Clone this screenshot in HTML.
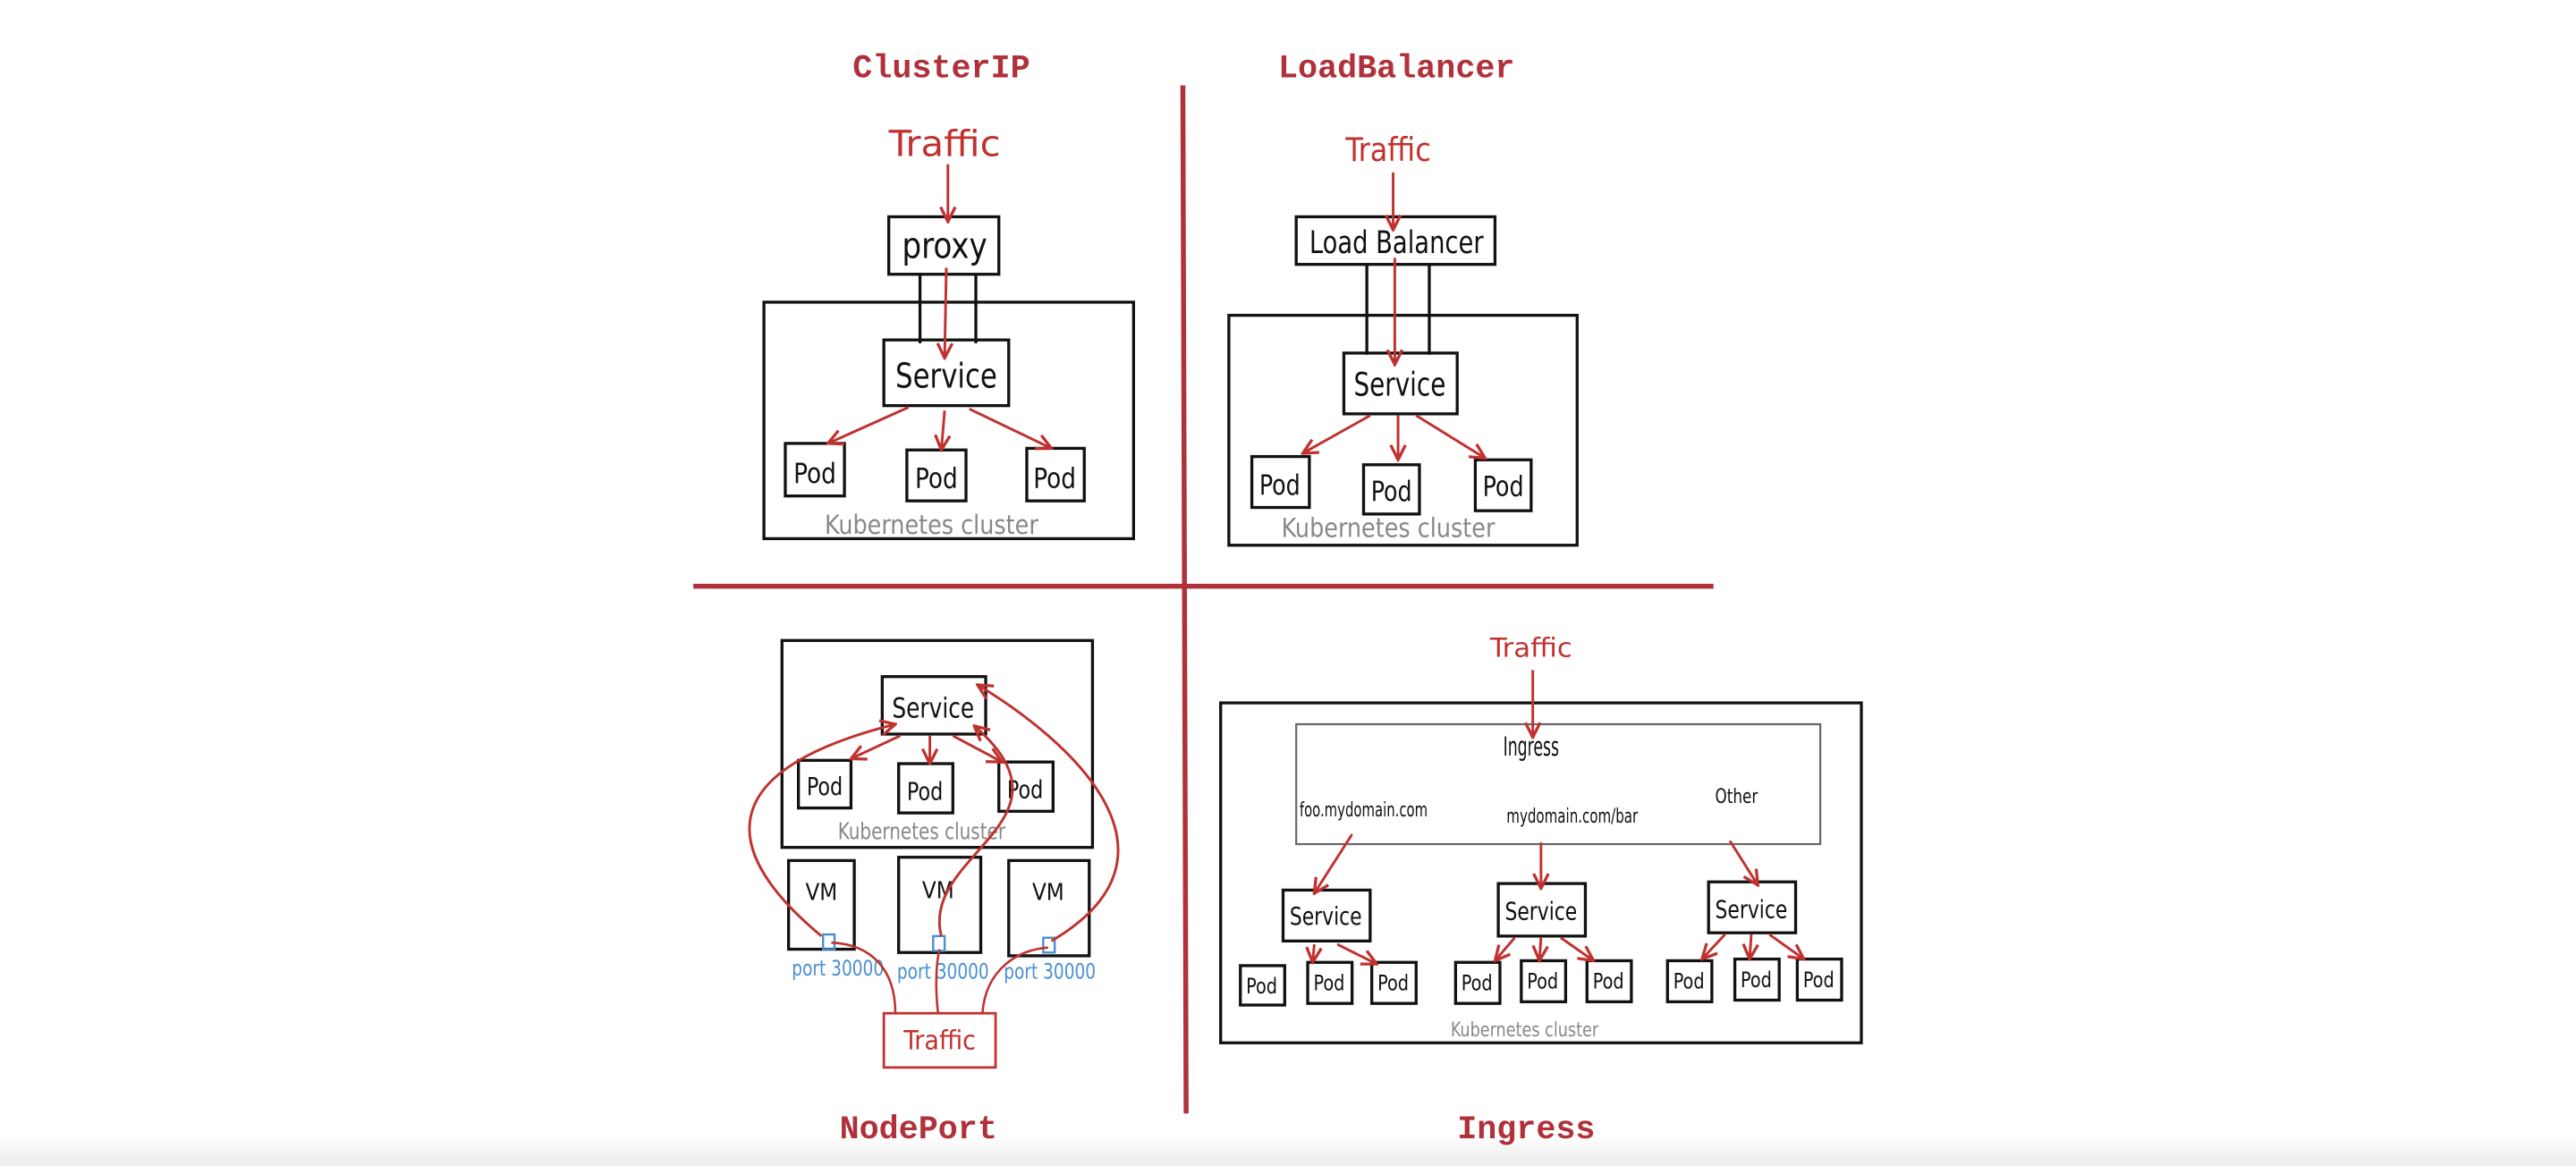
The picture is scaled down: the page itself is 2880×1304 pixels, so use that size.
<!DOCTYPE html>
<html><head><meta charset="utf-8"><style>
html,body{margin:0;padding:0;background:#fff;}
svg{display:block;}
.h{font-family:"Liberation Sans Narrow","DejaVu Sans Condensed","Liberation Sans",sans-serif;}
.t{font-family:"Liberation Mono",monospace;font-weight:bold;fill:#b0313a;font-size:20px;text-anchor:middle;}
</style></head><body>
<svg width="2880" height="1304" viewBox="0 0 1568 710" preserveAspectRatio="none" xmlns="http://www.w3.org/2000/svg">
<defs>
<linearGradient id="g" x1="0" y1="0" x2="0" y2="1"><stop offset="0" stop-color="#fff"/><stop offset="1" stop-color="#ececec"/></linearGradient>
<marker id="a" viewBox="0 0 10 10" refX="9" refY="5" markerWidth="7" markerHeight="7" orient="auto-start-reverse"><path d="M1,1 L9,5 L1,9" fill="none" stroke="#c0312f" stroke-width="1.6"/></marker>
</defs>
<rect x="0" y="690" width="1568" height="20" fill="url(#g)"/>
<text class="t" x="573" y="47">ClusterIP</text>
<text class="t" x="850" y="47">LoadBalancer</text>
<text class="t" x="559" y="693">NodePort</text>
<text class="t" x="929" y="693">Ingress</text>
<line x1="720" y1="52" x2="722" y2="678" stroke="#b0313a" stroke-width="3"/>
<line x1="422" y1="357" x2="1043" y2="357" stroke="#b0313a" stroke-width="3"/>

<g fill="none" stroke="#111" stroke-width="1.8">
<rect x="465" y="184" width="225" height="144"/>
<rect x="541" y="132" width="67" height="35"/>
<line x1="560" y1="167" x2="560" y2="209"/><line x1="594" y1="167" x2="594" y2="209"/>
<rect x="538" y="207" width="76" height="40"/>
<rect x="478" y="270" width="36" height="32"/><rect x="552" y="274" width="36" height="31"/><rect x="625" y="273" width="35" height="32"/>
<rect x="748" y="192" width="212" height="140"/>
<rect x="789" y="132" width="121" height="29"/>
<line x1="832" y1="161" x2="832" y2="216"/><line x1="870" y1="161" x2="870" y2="216"/>
<rect x="818" y="215" width="69" height="37"/>
<rect x="762" y="278" width="35" height="31"/><rect x="830" y="283" width="34" height="30"/><rect x="898" y="280" width="34" height="31"/>
<rect x="476" y="390" width="189" height="126"/>
<rect x="537" y="412" width="63" height="35"/>
<rect x="486" y="463" width="32" height="29"/><rect x="547" y="465" width="33" height="30"/><rect x="608" y="464" width="33" height="30"/>
<rect x="480" y="524" width="40" height="54"/><rect x="547" y="522" width="50" height="58"/><rect x="614" y="524" width="49" height="58"/>
<rect x="743" y="428" width="390" height="207"/>
<rect x="789" y="441" width="319" height="73" stroke="#666" stroke-width="1.2"/>
<rect x="781" y="542" width="53" height="31"/><rect x="912" y="538" width="53" height="32"/><rect x="1040" y="537" width="53" height="31"/>
<rect x="755" y="588" width="27" height="24"/><rect x="796" y="586" width="27" height="25"/><rect x="835" y="586" width="27" height="25"/>
<rect x="886" y="586" width="27" height="25"/><rect x="926" y="585" width="27" height="25"/><rect x="966" y="585" width="27" height="25"/>
<rect x="1015" y="585" width="27" height="25"/><rect x="1056" y="584" width="27" height="25"/><rect x="1094" y="584" width="27" height="25"/>
</g>

<g class="h" fill="#111" text-anchor="middle" lengthAdjust="spacingAndGlyphs">
<text x="575" y="157" font-size="22" textLength="52" lengthAdjust="spacingAndGlyphs">proxy</text>
<text x="576" y="236" font-size="21" textLength="62" lengthAdjust="spacingAndGlyphs">Service</text>
<text x="496" y="294" font-size="17" textLength="26" lengthAdjust="spacingAndGlyphs">Pod</text><text x="570" y="297" font-size="17" textLength="26" lengthAdjust="spacingAndGlyphs">Pod</text><text x="642" y="297" font-size="17" textLength="26" lengthAdjust="spacingAndGlyphs">Pod</text>
<text x="850" y="154" font-size="19" textLength="106" lengthAdjust="spacingAndGlyphs">Load Balancer</text>
<text x="852" y="241" font-size="20" textLength="56" lengthAdjust="spacingAndGlyphs">Service</text>
<text x="779" y="301" font-size="17" textLength="25" lengthAdjust="spacingAndGlyphs">Pod</text><text x="847" y="305" font-size="17" textLength="25" lengthAdjust="spacingAndGlyphs">Pod</text><text x="915" y="302" font-size="17" textLength="25" lengthAdjust="spacingAndGlyphs">Pod</text>
<text x="568" y="437" font-size="17" textLength="50" lengthAdjust="spacingAndGlyphs">Service</text>
<text x="502" y="484" font-size="15" textLength="22" lengthAdjust="spacingAndGlyphs">Pod</text><text x="563" y="487" font-size="15" textLength="22" lengthAdjust="spacingAndGlyphs">Pod</text><text x="624" y="486" font-size="15" textLength="22" lengthAdjust="spacingAndGlyphs">Pod</text>
<text x="500" y="548" font-size="14">VM</text><text x="571" y="547" font-size="14">VM</text><text x="638" y="548" font-size="14">VM</text>
<text x="932" y="460" font-size="16" textLength="34" lengthAdjust="spacingAndGlyphs">Ingress</text>
<text x="830" y="497" font-size="12" textLength="78" lengthAdjust="spacingAndGlyphs">foo.mydomain.com</text>
<text x="957" y="501" font-size="12" textLength="80" lengthAdjust="spacingAndGlyphs">mydomain.com/bar</text>
<text x="1057" y="489" font-size="12" textLength="26" lengthAdjust="spacingAndGlyphs">Other</text>
<text x="807" y="563" font-size="15" textLength="44" lengthAdjust="spacingAndGlyphs">Service</text><text x="938" y="560" font-size="15" textLength="44" lengthAdjust="spacingAndGlyphs">Service</text><text x="1066" y="559" font-size="15" textLength="44" lengthAdjust="spacingAndGlyphs">Service</text>
<g font-size="13">
<text x="768" y="605" textLength="19" lengthAdjust="spacingAndGlyphs">Pod</text><text x="809" y="603" textLength="19" lengthAdjust="spacingAndGlyphs">Pod</text><text x="848" y="603" textLength="19" lengthAdjust="spacingAndGlyphs">Pod</text>
<text x="899" y="603" textLength="19" lengthAdjust="spacingAndGlyphs">Pod</text><text x="939" y="602" textLength="19" lengthAdjust="spacingAndGlyphs">Pod</text><text x="979" y="602" textLength="19" lengthAdjust="spacingAndGlyphs">Pod</text>
<text x="1028" y="602" textLength="19" lengthAdjust="spacingAndGlyphs">Pod</text><text x="1069" y="601" textLength="19" lengthAdjust="spacingAndGlyphs">Pod</text><text x="1107" y="601" textLength="19" lengthAdjust="spacingAndGlyphs">Pod</text>
</g>
</g>
<g class="h" fill="#888" text-anchor="middle">
<text x="567" y="325" font-size="16" textLength="130" lengthAdjust="spacingAndGlyphs">Kubernetes cluster</text>
<text x="845" y="327" font-size="16" textLength="130" lengthAdjust="spacingAndGlyphs">Kubernetes cluster</text>
<text x="561" y="511" font-size="14" textLength="102" lengthAdjust="spacingAndGlyphs">Kubernetes cluster</text>
<text x="928" y="631" font-size="12" textLength="90" lengthAdjust="spacingAndGlyphs">Kubernetes cluster</text>
</g>
<g class="h" fill="#c0312f" text-anchor="middle">
<text x="575" y="95" font-size="22" textLength="68" lengthAdjust="spacingAndGlyphs">Traffic</text>
<text x="845" y="98" font-size="20" textLength="52" lengthAdjust="spacingAndGlyphs">Traffic</text>
<text x="932" y="400" font-size="16" textLength="50" lengthAdjust="spacingAndGlyphs">Traffic</text>
<text x="572" y="639" font-size="16" textLength="44" lengthAdjust="spacingAndGlyphs">Traffic</text>
</g>
<rect x="538" y="617" width="68" height="33" fill="none" stroke="#c0312f" stroke-width="1.5"/>
<g class="h" fill="#4a8fd0" font-size="13" text-anchor="middle">
<text x="510" y="594" textLength="56" lengthAdjust="spacingAndGlyphs">port 30000</text><text x="574" y="596" textLength="56" lengthAdjust="spacingAndGlyphs">port 30000</text><text x="639" y="596" textLength="56" lengthAdjust="spacingAndGlyphs">port 30000</text>
</g>
<g fill="none" stroke="#4a8fd0" stroke-width="1.3">
<rect x="501" y="569" width="7" height="9"/><rect x="568" y="570" width="7" height="9"/><rect x="635" y="571" width="7" height="9"/>
</g>

<g fill="none" stroke="#c0312f" stroke-width="1.6" marker-end="url(#a)">
<line x1="577" y1="100" x2="577" y2="135"/>
<line x1="576" y1="163" x2="575" y2="218"/>
<line x1="553" y1="248" x2="504" y2="270"/><line x1="575" y1="250" x2="573" y2="274"/><line x1="590" y1="249" x2="640" y2="273"/>
<line x1="848" y1="105" x2="848" y2="140"/>
<line x1="849" y1="157" x2="849" y2="222"/>
<line x1="834" y1="253" x2="793" y2="276"/><line x1="851" y1="253" x2="851" y2="280"/><line x1="862" y1="253" x2="904" y2="279"/>
<line x1="548" y1="448" x2="518" y2="462"/><line x1="566" y1="448" x2="566" y2="465"/><line x1="580" y1="448" x2="610" y2="464"/>
<line x1="933" y1="408" x2="933" y2="449"/>
<line x1="823" y1="508" x2="800" y2="544"/><line x1="938" y1="513" x2="938" y2="541"/><line x1="1053" y1="512" x2="1070" y2="539"/>
<line x1="800" y1="575" x2="799" y2="586"/><line x1="814" y1="575" x2="838" y2="587"/>
<line x1="922" y1="571" x2="910" y2="585"/><line x1="938" y1="571" x2="937" y2="585"/><line x1="950" y1="571" x2="970" y2="585"/>
<line x1="1050" y1="569" x2="1036" y2="584"/><line x1="1066" y1="569" x2="1065" y2="584"/><line x1="1077" y1="569" x2="1098" y2="584"/>
<path d="M500,570 C440,520 430,470 545,441"/>
<path d="M573,570 C560,520 660,500 593,442"/>
<path d="M640,573 C730,520 650,450 595,417"/>
</g>
<g fill="none" stroke="#c0312f" stroke-width="1.4">
<path d="M545,617 C545,590 530,575 506,574"/>
<path d="M571,617 C569,600 570,585 572,578"/>
<path d="M598,617 C600,590 620,578 638,577"/>
</g>
</svg>
</body></html>
